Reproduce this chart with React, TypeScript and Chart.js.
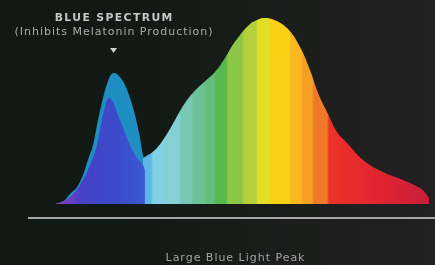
import React, { useEffect, useRef } from "react";
import { Chart, registerables } from "chart.js";

Chart.register(...registerables);

// Wavelength (nm) and relative intensity (%)
const outerBlueNm = [379, 384.2, 389.5, 394.9, 402.4, 408.8, 414.1, 419.5, 424.8, 430.2, 435.5, 440.9, 446.2, 453.7, 459.0, 464.4, 469.7, 472.9, 477.2];
const outerBlueVal = [0, 0.8, 2.2, 5.4, 9.1, 15.6, 23.7, 31.7, 45.2, 57.0, 66.1, 70.4, 69.4, 64.0, 57.0, 47.8, 35.5, 26.3, 18.3];

const innerBlueNm = [379, 386.3, 394.9, 405.6, 416.3, 423.7, 429.1, 433.4, 436.6, 440.9, 446.2, 452.6, 459.0, 466.5, 472.9, 475.0];
const innerBlueVal = [0, 1.1, 3.8, 10.2, 21.0, 31.7, 45.2, 54.3, 57.0, 54.8, 47.8, 39.8, 31.7, 24.7, 21.0, 18.3];

const spectrumNm = [472.9, 485.7, 496.4, 507.1, 517.8, 528.5, 539.2, 549.9, 560.6, 568.0, 576.6, 587.3, 594.8, 601.2, 610.8, 626.8, 640.7, 651.4, 660.0, 669.6, 680.3, 691.0, 708.0, 729.4, 750.8, 769.0, 774.3, 778.6];
const spectrumVal = [24.7, 29.0, 36.0, 45.2, 54.3, 61.0, 66.0, 71.0, 78.5, 84.9, 90.9, 96.8, 98.9, 100, 99.5, 94.6, 84.4, 72.0, 59.7, 49.5, 38.7, 32.8, 23.7, 17.2, 12.9, 8.6, 6.2, 3.2];

const titleText = "BLUE SPECTRUM";
const subtitleText = "(Inhibits Melatonin Production)";
const axisLabel = "Large Blue Light Peak";

// colour bands of the visible spectrum: [start nm, colour]
const bandStart = [470, 482.5, 496.4, 512.5, 525.3, 539.2, 549.9, 562.7, 579.8, 594.8, 608.7, 630, 642.9, 654.6, 670.6, 726];
const bandColor = ["#5cb6e6", "#82d2e6", "#84d0d2", "#78c8b6", "#6cc296", "#62be7a", "#56b84e", "#8cc646", "#b6d03a", "#e2e026", "#f8d016", "#f8b820", "#f4a024", "#f07a28", "#ef3228", "#e02430"];
const bandEndColor = "#c41e3c";

const X_MIN = 350;
const X_MAX = 785;

export default function App() {
  const canvasRef = useRef<HTMLCanvasElement | null>(null);

  useEffect(() => {
    const canvas = canvasRef.current;
    if (!canvas) return;

    const toPts = (xs: number[], ys: number[]) => xs.map((x, i) => ({ x, y: ys[i] }));

    const spectrumFill = (ctx: any) => {
      const chart = ctx.chart;
      const area = chart.chartArea;
      if (!area) return bandColor[0];
      const xs = chart.scales.x;
      const w = area.right - area.left;
      const g = chart.ctx.createLinearGradient(area.left, 0, area.right, 0);
      const off = (nm: number) => Math.min(1, Math.max(0, (xs.getPixelForValue(nm) - area.left) / w));
      const px = 1 / w;
      let last = 0;
      const add = (o: number, c: string) => {
        const oo = Math.max(last, Math.min(1, o));
        g.addColorStop(oo, c);
        last = oo;
      };
      for (let i = 0; i < bandStart.length; i++) {
        const s = off(bandStart[i]);
        const hasNext = i + 1 < bandStart.length;
        const isRed = i >= bandStart.length - 2;
        add(i === 0 ? 0 : s + px, bandColor[i]);
        const e = hasNext ? off(bandStart[i + 1]) - px : off(X_MAX);
        if (isRed) add(e, hasNext ? bandColor[i + 1] : bandEndColor);
        else add(e, bandColor[i]);
      }
      return g;
    };

    const innerFill = (ctx: any) => {
      const chart = ctx.chart;
      const area = chart.chartArea;
      if (!area) return "#3a4ccb";
      const xs = chart.scales.x;
      const a = xs.getPixelForValue(379);
      const b = xs.getPixelForValue(476);
      const g = chart.ctx.createLinearGradient(a, 0, b, 0);
      g.addColorStop(0, "#c0359a");
      g.addColorStop(0.1, "#7a3cc0");
      g.addColorStop(0.3, "#4642c8");
      g.addColorStop(0.7, "#3a4ccb");
      g.addColorStop(1, "#3a5ad4");
      return g;
    };

    const fitText = (c: CanvasRenderingContext2D, text: string, cx: number, y: number, width: number) => {
      (c as any).letterSpacing = "0px";
      const natural = c.measureText(text).width;
      const sp = (width - natural) / text.length;
      (c as any).letterSpacing = sp.toFixed(2) + "px";
      c.fillText(text, cx + sp / 2, y);
    };

    const decor = {
      id: "decor",
      afterDraw(chart: any) {
        const c = chart.ctx as CanvasRenderingContext2D;
        const area = chart.chartArea;
        c.save();
        // baseline
        c.strokeStyle = "#a6a6a6";
        c.lineWidth = 2;
        c.beginPath();
        c.moveTo(area.left, area.bottom);
        c.lineTo(area.right, area.bottom);
        c.stroke();

        const cx = chart.scales.x.getPixelForValue(441.4);
        c.textAlign = "center";
        c.textBaseline = "alphabetic";
        c.fillStyle = "#c6c6c6";
        c.font = "bold 10.8px 'DejaVu Sans'";
        fitText(c, titleText, cx, 20.5, 119);
        c.fillStyle = "#ababab";
        c.font = "11px 'DejaVu Sans'";
        fitText(c, subtitleText, cx, 35, 199);
        // marker triangle
        c.fillStyle = "#cfcfcf";
        c.beginPath();
        c.moveTo(cx - 3.5, 48);
        c.lineTo(cx + 3.5, 48);
        c.lineTo(cx, 53);
        c.closePath();
        c.fill();
        // axis label
        c.fillStyle = "#a4a4a4";
        c.font = "11px 'DejaVu Sans'";
        fitText(c, axisLabel, (area.left + area.right) / 2 + 3.5, 260.5, 140);
        c.restore();
      },
    };

    const chart = new Chart(canvas, {
      type: "line",
      data: {
        datasets: [
          {
            data: toPts(innerBlueNm, innerBlueVal),
            order: 0,
            fill: "origin",
            backgroundColor: innerFill,
            borderWidth: 0,
            pointRadius: 0,
            cubicInterpolationMode: "monotone",
            clip: false,
          },
          {
            data: toPts(spectrumNm, spectrumVal),
            order: 1,
            fill: "origin",
            backgroundColor: spectrumFill,
            borderWidth: 0,
            pointRadius: 0,
            tension: 0.4,
            clip: false,
          },
          {
            data: toPts(outerBlueNm, outerBlueVal),
            order: 2,
            fill: "origin",
            backgroundColor: "#1e8ec3",
            borderWidth: 0,
            pointRadius: 0,
            cubicInterpolationMode: "monotone",
            clip: false,
          },
        ],
      } as any,
      options: {
        animation: false,
        responsive: false,
        devicePixelRatio: 1,
        layout: { padding: { left: 28, right: 0, top: 18, bottom: 47 } },
        scales: {
          x: { type: "linear", min: X_MIN, max: X_MAX, display: false },
          y: { min: -7.5, max: 100, display: false },
        },
        plugins: { legend: { display: false }, tooltip: { enabled: false } },
        events: [],
      } as any,
      plugins: [decor],
    });
    return () => chart.destroy();
  }, []);

  return (
    <div
      style={{
        position: "fixed",
        left: 0,
        top: 0,
        width: 435,
        height: 265,
        background: "linear-gradient(90deg, #0f1813 0%, #131a15 35%, #1c1e1c 70%, #212121 100%)",
      }}
    >
      <canvas ref={canvasRef} width={435} height={265} style={{ display: "block", width: 435, height: 265 }} />
    </div>
  );
}
